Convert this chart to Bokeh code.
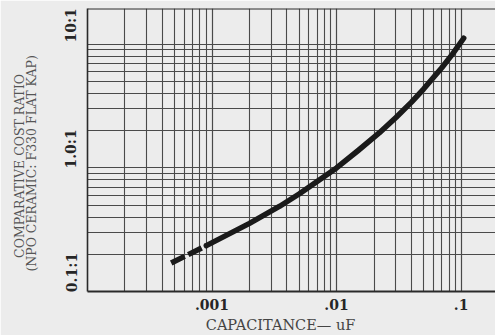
import math
from bokeh.plotting import figure
from bokeh.models import Range1d, FixedTicker, Span, LogAxis
from bokeh.embed import file_html
from bokeh.resources import INLINE

# ---- data ----
CAP = [0.00047, 0.0009, 0.002, 0.0035, 0.005, 0.01, 0.015, 0.022, 0.03,
       0.04, 0.05, 0.07, 0.085, 0.105]
RATIO = [0.17, 0.235, 0.356, 0.49, 0.615, 1.0, 1.39, 1.92, 2.56,
         3.41, 4.35, 6.46, 8.3, 11.2]
DASHED_POINTS = 2          # first points drawn dashed

X_TICKS = [0.001, 0.01, 0.1]
X_LABELS = [".001", ".01", ".1"]
Y_TICKS = [0.1, 1.0, 10.0]
Y_LABELS = ["0.1:1", "1.0:1", "10:1"]
X_TITLE = "CAPACITANCE\u2014 uF"
Y_TITLE_1 = "COMPARATIVE COST RATIO"
Y_TITLE_2 = "(NPO CERAMIC: F330 FLAT KAP)"

X_START, X_END = 1e-4, 0.189
Y_START, Y_END = 0.1, 19.5

BG = "#ececec"
GRID = "#4a4a4a"
INK = "#262626"
SERIF = "DejaVu Serif"

W, H = 495, 335
LEFT, RIGHT, TOP, BOTTOM = 87, 0, 8, 44
FRAME_W, FRAME_H = W - LEFT - RIGHT, H - TOP - BOTTOM
X_DEC = FRAME_W / math.log10(X_END / X_START)   # px per decade
Y_DEC = FRAME_H / math.log10(Y_END / Y_START)


def xshift(v, px):
    return v * 10 ** (px / X_DEC)


def yshift(v, px):
    return v * 10 ** (px / Y_DEC)


p = figure(width=W, height=H, x_axis_type="log", y_axis_type="log",
           x_range=Range1d(X_START, X_END), y_range=Range1d(Y_START, Y_END),
           output_backend="svg", toolbar_location=None,
           min_border_left=LEFT, min_border_right=RIGHT, min_border_top=TOP,
           min_border_bottom=BOTTOM)
p.background_fill_color = BG
p.border_fill_color = BG
p.outline_line_color = None

# grid: decades and 2..9 multiples
major = [10.0 ** e for e in range(-5, 3)]
minor = [m * 10.0 ** e for e in range(-5, 3) for m in range(2, 10)]
grid_ticker = FixedTicker(ticks=major, minor_ticks=minor)
for g in (p.xgrid[0], p.ygrid[0]):
    g.ticker = grid_ticker
    g.grid_line_color = GRID
    g.grid_line_width = 1.2
    g.minor_grid_line_color = GRID
    g.minor_grid_line_width = 1.1


def plain(ax, standoff):
    ax.major_tick_line_color = None
    ax.minor_tick_line_color = None
    ax.major_tick_out = 0
    ax.minor_tick_out = 0
    ax.major_tick_in = 0
    ax.minor_tick_in = 0
    ax.major_label_standoff = standoff


# x axis: tick labels
xa = p.xaxis[0]
xa.ticker = FixedTicker(ticks=X_TICKS, minor_ticks=[])
xa.major_label_overrides = {t: s for t, s in zip(X_TICKS, X_LABELS)}
plain(xa, 7)
xa.major_label_text_font = SERIF
xa.major_label_text_font_style = "bold"
xa.major_label_text_font_size = "14px"
xa.major_label_text_color = INK
xa.axis_line_color = "#2a2a2a"
xa.axis_line_width = 2.2

# x title carried by a second bottom axis, placed like the original
x_title_at = xshift(X_TICKS[1], -56)
xt = LogAxis(ticker=FixedTicker(ticks=[x_title_at], minor_ticks=[]),
             major_label_overrides={x_title_at: X_TITLE})
plain(xt, 4)
xt.axis_line_color = None
xt.major_label_text_font = SERIF
xt.major_label_text_font_size = "14.5px"
xt.major_label_text_color = "#444444"
p.add_layout(xt, "below")

# y axis: labels sit above their grid lines, as in the original
ya = p.yaxis[0]
y_lab_at = [yshift(t, 19) for t in Y_TICKS]
ya.ticker = FixedTicker(ticks=y_lab_at, minor_ticks=[])
ya.major_label_overrides = {t: s for t, s in zip(y_lab_at, Y_LABELS)}
ya.major_label_orientation = "vertical"
plain(ya, 8)
ya.major_label_text_font = SERIF
ya.major_label_text_font_style = "bold"
ya.major_label_text_font_size = "14px"
ya.major_label_text_color = INK
ya.axis_line_color = "#2a2a2a"
ya.axis_line_width = 1.6

# two-line y title, each line carried by its own left axis
for text, at_px, standoff in ((Y_TITLE_2, 4.5, 21), (Y_TITLE_1, 2, -6)):
    at = yshift(Y_TICKS[1], at_px)
    ax = LogAxis(ticker=FixedTicker(ticks=[at], minor_ticks=[]),
                 major_label_overrides={at: text})
    plain(ax, standoff)
    ax.axis_line_color = None
    ax.major_label_orientation = "vertical"
    ax.major_label_text_font = SERIF
    ax.major_label_text_font_size = "12.5px"
    ax.major_label_text_color = "#555555"
    p.add_layout(ax, "left")

# top border
p.add_layout(Span(location=Y_END, dimension="width", line_color="#2a2a2a",
                  line_width=2))

# curve
p.line(CAP[:DASHED_POINTS], RATIO[:DASHED_POINTS], line_width=5.5,
       line_color="#1a1a1a", line_dash="15 4", line_cap="butt")
p.line(CAP[DASHED_POINTS - 1:], RATIO[DASHED_POINTS - 1:], line_width=5.5,
       line_color="#1a1a1a", line_cap="round", line_join="round")

open("out.html", "w").write(file_html(p, INLINE))
